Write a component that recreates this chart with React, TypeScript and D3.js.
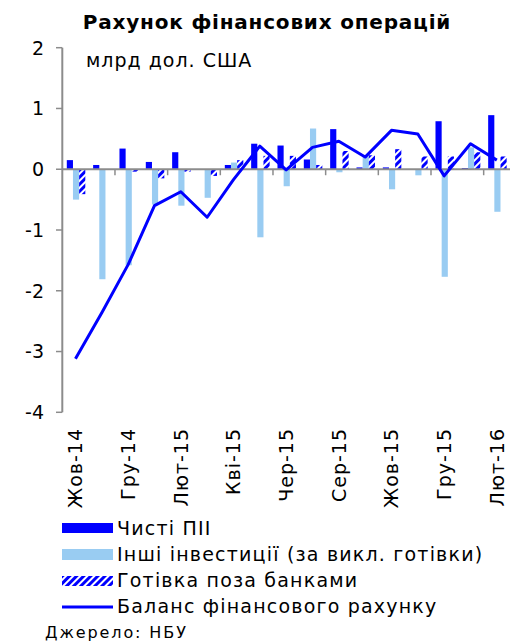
import React from "react";
import * as d3 from "d3";

const months = ["Жов-14","Лис-14","Гру-14","Січ-15","Лют-15","Бер-15","Кві-15","Тра-15","Чер-15","Лип-15","Сер-15","Вер-15","Жов-15","Лис-15","Гру-15","Січ-16","Лют-16"];
const fdi = [0.15, 0.07, 0.34, 0.12, 0.28, 0.0, 0.07, 0.42, 0.39, 0.16, 0.66, 0.03, 0.03, 0.0, 0.79, 0.02, 0.89];
const otherInv = [-0.5, -1.81, -1.58, -0.58, -0.6, -0.47, 0.11, -1.12, -0.28, 0.67, -0.05, 0.21, -0.33, -0.1, -1.77, 0.36, -0.7];
const cash = [-0.41, 0.0, -0.04, -0.15, -0.04, -0.11, 0.15, 0.22, 0.22, 0.07, 0.3, 0.23, 0.33, 0.21, 0.21, 0.28, 0.21];
const balance = [-3.12, -2.36, -1.57, -0.6, -0.37, -0.79, -0.17, 0.38, -0.01, 0.36, 0.46, 0.2, 0.64, 0.58, -0.11, 0.42, 0.15];
const yTicks = [2, 1, 0, -1, -2, -3, -4];
const seriesKeys = ["fdi", "other", "cash"];
const legendLabels = ["Чисті ПІІ", "Інші інвестиції (за викл. готівки)", "Готівка поза банками", "Баланс фінансового рахунку"];

const W = 511, H = 642;
const FONT = "'DejaVu Sans', Verdana, sans-serif";
const DARK = "#0000ff";
const LIGHT = "#99ccf2";
const AXIS = "#8c8c8c";

export default function App() {
  const x = d3.scaleBand<string>().domain(months).range([62.3, 510]).paddingInner(0).paddingOuter(0);
  const sub = d3.scaleBand<string>().domain(seriesKeys).range([4.5, 23]);
  const y = d3.scaleLinear().domain([-4, 2]).range([412.3, 47.7]);
  const series: Record<string, number[]> = { fdi, other: otherInv, cash };
  const fills: Record<string, string> = { fdi: DARK, other: LIGHT, cash: "url(#hatch)" };
  const line = d3.line<number>().x((_, i) => (x(months[i]) as number) + x.bandwidth() / 2).y((d) => y(d));
  const y0 = y(0);

  return (
    <svg width={W} height={H} style={{ position: "absolute", left: 0, top: 0, background: "#fff" }} fontFamily={FONT}>
      <defs>
        <pattern id="hatch" patternUnits="userSpaceOnUse" width={5} height={5} patternTransform="rotate(45)">
          <rect width={5} height={5} fill="#fff" />
          <rect width={3} height={5} fill={DARK} />
        </pattern>
      </defs>
      <text x={267} y={29} textAnchor="middle" fontWeight="bold" fontSize={20} letterSpacing={0.8}>Рахунок фінансових операцій</text>
      <text x={86} y={67} fontSize={19} letterSpacing={1}>млрд дол. США</text>

      {seriesKeys.map((k) =>
        series[k].map((v, i) => {
          const bx = (x(months[i]) as number) + (sub(k) as number);
          return (
            <rect key={k + i} x={bx} width={sub.bandwidth()} y={Math.min(y(v), y0)} height={Math.abs(y(v) - y0)} fill={fills[k]} />
          );
        })
      )}

      {/* x axis */}
      <line x1={62.3} x2={510} y1={y0} y2={y0} stroke={AXIS} strokeWidth={2} />
      {months.map((m, i) =>
        i % 2 === 0 && i > 0 ? (
          <line key={"xt" + i} x1={x(m) as number} x2={x(m) as number} y1={y0} y2={y0 + 6} stroke={AXIS} strokeWidth={1.5} />
        ) : null
      )}
      {months.map((m, i) =>
        i % 2 === 0 ? (
          <text key={"xl" + i} transform={`translate(${(x(m) as number) + x.bandwidth() / 2},428) rotate(-90)`} textAnchor="end" dy="0.36em" fontSize={19} letterSpacing={1}>{m}</text>
        ) : null
      )}

      {/* y axis */}
      <line x1={62.3} x2={62.3} y1={y(2)} y2={y(-4)} stroke={AXIS} strokeWidth={2} />
      {yTicks.map((t) => (
        <g key={"yt" + t}>
          <line x1={56} x2={62.3} y1={y(t)} y2={y(t)} stroke={AXIS} strokeWidth={1.5} />
          <text x={44} y={y(t)} dy="0.36em" textAnchor="end" fontSize={19}>{t}</text>
        </g>
      ))}

      <path d={line(balance) as string} fill="none" stroke={DARK} strokeWidth={3} strokeLinejoin="round" />

      {/* legend */}
      <rect x={62} y={523} width={51} height={10} fill={DARK} />
      <rect x={62} y={549} width={51} height={11} fill={LIGHT} />
      <rect x={62} y={576} width={51} height={10} fill="url(#hatch)" />
      <line x1={62} x2={113} y1={607} y2={607} stroke={DARK} strokeWidth={3} />
      {legendLabels.map((l, i) => (
        <text key={l} x={117} y={535 + i * 26} fontSize={19} letterSpacing={1.2}>{l}</text>
      ))}
      <text x={45} y={638} fontSize={16} letterSpacing={1.9}>Джерело: НБУ</text>
    </svg>
  );
}
